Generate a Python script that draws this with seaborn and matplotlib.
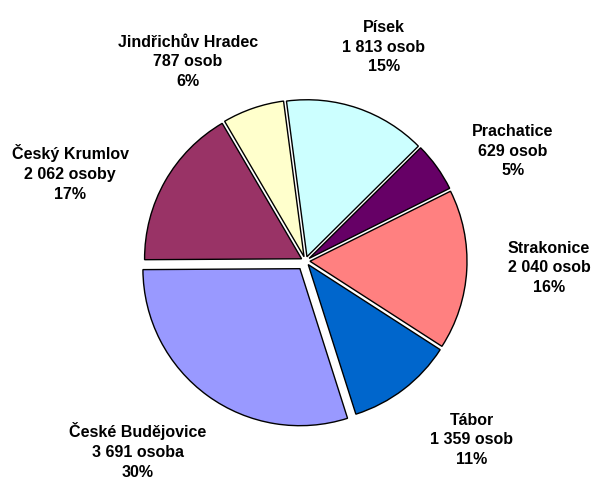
import matplotlib
matplotlib.use("Agg")
import matplotlib.pyplot as plt
import seaborn as sns

# data, clockwise from the top
districts = ["Písek", "Prachatice", "Strakonice", "Tábor",
             "České Budějovice", "Český Krumlov", "Jindřichův Hradec"]
people = [1813, 629, 2040, 1359, 3691, 2062, 787]
units = ["osob", "osob", "osob", "osob", "osoba", "osoby", "osob"]
colors = ["#CCFFFF", "#660066", "#FF8080", "#0066CC",
          "#9999FF", "#993366", "#FFFFCC"]

# layout (pixel units, y measured from the top of the image)
W, H = 596, 480
pie_center = (305.5, 261)
pie_radius = 157
explode = [4.5, 4.5, 4.5, 4.5, 9.5, 4.5, 4.5]
label_pos = [(384, 47), (513, 151), (549, 268), (472, 440),
             (138, 451), (70, 173), (188, 62)]

sns.set_theme(style="white")
plt.rcParams["font.family"] = ["Liberation Sans", "DejaVu Sans"]

fig = plt.figure(figsize=(W / 100, H / 100), dpi=100)
ax = fig.add_axes([0, 0, 1, 1])

ax.pie(people, colors=colors, explode=explode, startangle=97.5,
       counterclock=False, radius=pie_radius,
       center=(pie_center[0], H - pie_center[1]),
       wedgeprops=dict(edgecolor="black", linewidth=1.0),
       frame=True)
ax.set_xlim(0, W)
ax.set_ylim(0, H)
ax.set_aspect("equal")
ax.axis("off")

total = sum(people)
for name, val, unit, (lx, ly) in zip(districts, people, units, label_pos):
    num = f"{val:,}".replace(",", " ")
    pct = round(val / total * 100)
    ax.text(lx, H - ly, f"{name}\n{num} {unit}\n{pct}%",
            ha="center", va="center", fontsize=11.5, fontweight="bold",
            linespacing=1.4, color="black")

fig.savefig("out.png", dpi=100, facecolor="white")
